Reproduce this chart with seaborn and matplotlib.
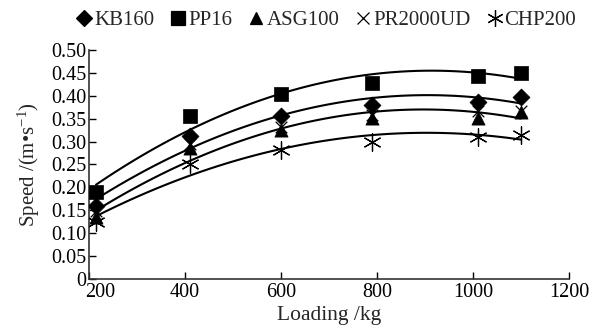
import numpy as np
import pandas as pd
import matplotlib
matplotlib.use("Agg")
import matplotlib.pyplot as plt
import matplotlib.transforms as mtransforms
import seaborn as sns

loading = [215, 410, 600, 790, 1010, 1100]
kb160 = [0.160, 0.312, 0.356, 0.380, 0.386, 0.397]
pp16 = [0.190, 0.356, 0.404, 0.428, 0.443, 0.450]
asg100 = [0.135, 0.286, 0.325, 0.352, 0.352, 0.365]
pr2000ud = [0.148, 0.294, 0.332, 0.358, 0.366, 0.368]
chp200 = [0.124, 0.251, 0.282, 0.299, 0.310, 0.314]

series_names = ["KB160", "PP16", "ASG100", "PR2000UD", "CHP200"]
series_vals = [kb160, pp16, asg100, pr2000ud, chp200]
fit_series = ["PP16", "KB160", "ASG100", "CHP200"]

xticks = [200, 400, 600, 800, 1000, 1200]
yticks = [0, 0.05, 0.10, 0.15, 0.20, 0.25, 0.30, 0.35, 0.40, 0.45, 0.50]
ytick_labels = ["0", "0.05", "0.10", "0.15", "0.20", "0.25", "0.30", "0.35", "0.40", "0.45", "0.50"]

sns.set_theme(style="ticks")
plt.rcParams["font.family"] = ["Liberation Serif", "DejaVu Serif"]
plt.rcParams["mathtext.fontset"] = "custom"
plt.rcParams["mathtext.rm"] = "Liberation Serif"
plt.rcParams["mathtext.default"] = "regular"

df = pd.DataFrame({"Loading": np.tile(loading, len(series_names)),
                   "Speed": np.concatenate(series_vals),
                   "Series": np.repeat(series_names, len(loading))})

fig = plt.figure(figsize=(5.92, 3.34), dpi=100)
ax = fig.add_axes([0.150, 0.165, 0.811, 0.685])

markers = {"KB160": "D", "PP16": "s", "ASG100": "^", "PR2000UD": "x", "CHP200": (6, 2, 0)}
sizes = {"KB160": 75, "PP16": 100, "ASG100": 90, "PR2000UD": 70, "CHP200": 160}

for name in fit_series:
    sub = df[df.Series == name]
    sns.regplot(data=sub, x="Loading", y="Speed", order=2, ci=None, scatter=False,
                truncate=True, ax=ax, line_kws=dict(color="black", lw=1.5))

handles = []
for name in series_names:
    sub = df[df.Series == name]
    thin = name in ("PR2000UD", "CHP200")
    sns.scatterplot(data=sub, x="Loading", y="Speed", marker=markers[name], s=sizes[name],
                    color="black", edgecolor="black", linewidth=0.9 if thin else 0.5,
                    ax=ax, zorder=3)
    handles.append(plt.Line2D([], [], ls="none", marker=markers[name], color="black",
                              markersize=np.sqrt(sizes[name]) * 0.95, markeredgewidth=0.9,
                              label=name))

ax.set_xlim(200, 1200)
ax.set_ylim(0, 0.5)
ax.set_xticks(xticks)
ax.set_xticklabels([str(v) for v in xticks])
ax.set_yticks(yticks)
ax.set_yticklabels(ytick_labels)
ax.tick_params(direction="in", length=5, width=1, labelsize=14.5, colors="black", pad=2)
ax.tick_params(axis="x", pad=3)
# shift the first x tick label right so it clears the "0" of the y axis
first = ax.get_xticklabels()[0]
first.set_transform(first.get_transform() + mtransforms.ScaledTranslation(11 / 100, 0, fig.dpi_scale_trans))
for s in ["top", "right"]:
    ax.spines[s].set_visible(False)
for s in ["left", "bottom"]:
    ax.spines[s].set_color("#333333")
    ax.spines[s].set_linewidth(1.2)
ax.set_xlabel("Loading /kg", fontsize=15.5, labelpad=3)
ax.set_ylabel("Speed /(m\u2022s$^{-1}$)", fontsize=15, labelpad=6)

fig.legend(handles=handles, loc="center", bbox_to_anchor=(0.551, 0.94), ncol=5,
           frameon=False, fontsize=15, handlelength=0.8, handletextpad=0.08,
           columnspacing=0.75, borderaxespad=0)

fig.savefig("out.png", dpi=100)
